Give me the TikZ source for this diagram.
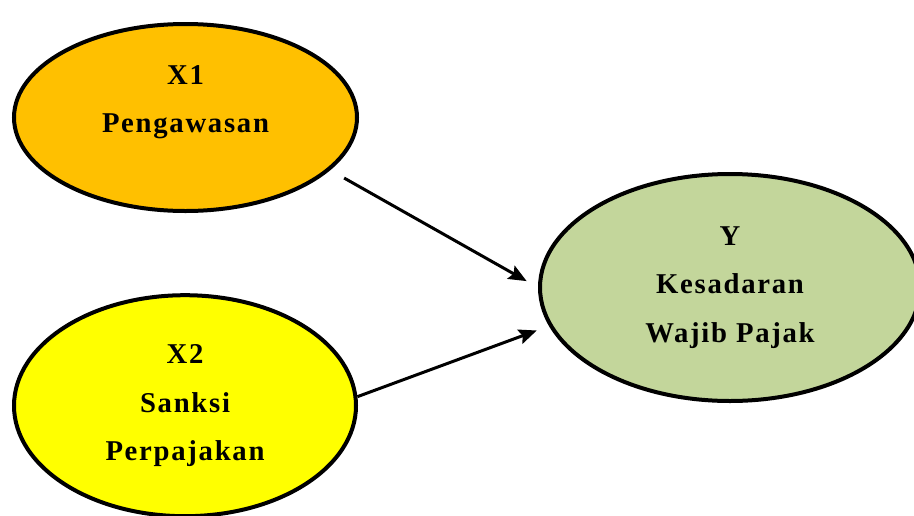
\documentclass[tikz,border=0pt]{standalone}
\usepackage{fontspec}
\setmainfont{Liberation Serif}[LetterSpace=6]
\usetikzlibrary{shapes.geometric,arrows.meta}

\definecolor{orangeX}{HTML}{FFC000}
\definecolor{yellowX}{HTML}{FFFF00}
\definecolor{greenY}{HTML}{C3D69B}

\tikzset{
	variabel/.style={ellipse, draw=black, line width=4pt, inner sep=0pt,
		align=center, font=\fontsize{28.7}{48.5}\selectfont\bfseries},
	panah/.style={line width=3pt, -{Stealth[length=18pt,width=15pt,inset=3pt]}}
}

\begin{document}
\begin{tikzpicture}[x=1pt, y=-1pt]
				\useasboundingbox (0, 0) rectangle (914, 515);

				\node[variabel, fill=orangeX, minimum width=343, minimum height=187] (pengawasan) at (185.5, 117.5) {X1\\Pengawasan\\[-12pt]\mbox{}};
				\node[variabel, fill=yellowX, minimum width=342, minimum height=221] (sanksi) at (185, 405.7) {X2\\Sanksi\\Perpajakan};
				\node[variabel, fill=greenY, minimum width=380, minimum height=227] (kesadaran) at (730, 287.5) {Y\\Kesadaran\\Wajib Pajak};

				\draw[panah, shorten <=16pt, shorten >=13pt] (pengawasan.-20) -- (kesadaran.180);
				\draw[panah, shorten >=13pt] (sanksi.3) -- (kesadaran.192);
			\end{tikzpicture}
\end{document}
